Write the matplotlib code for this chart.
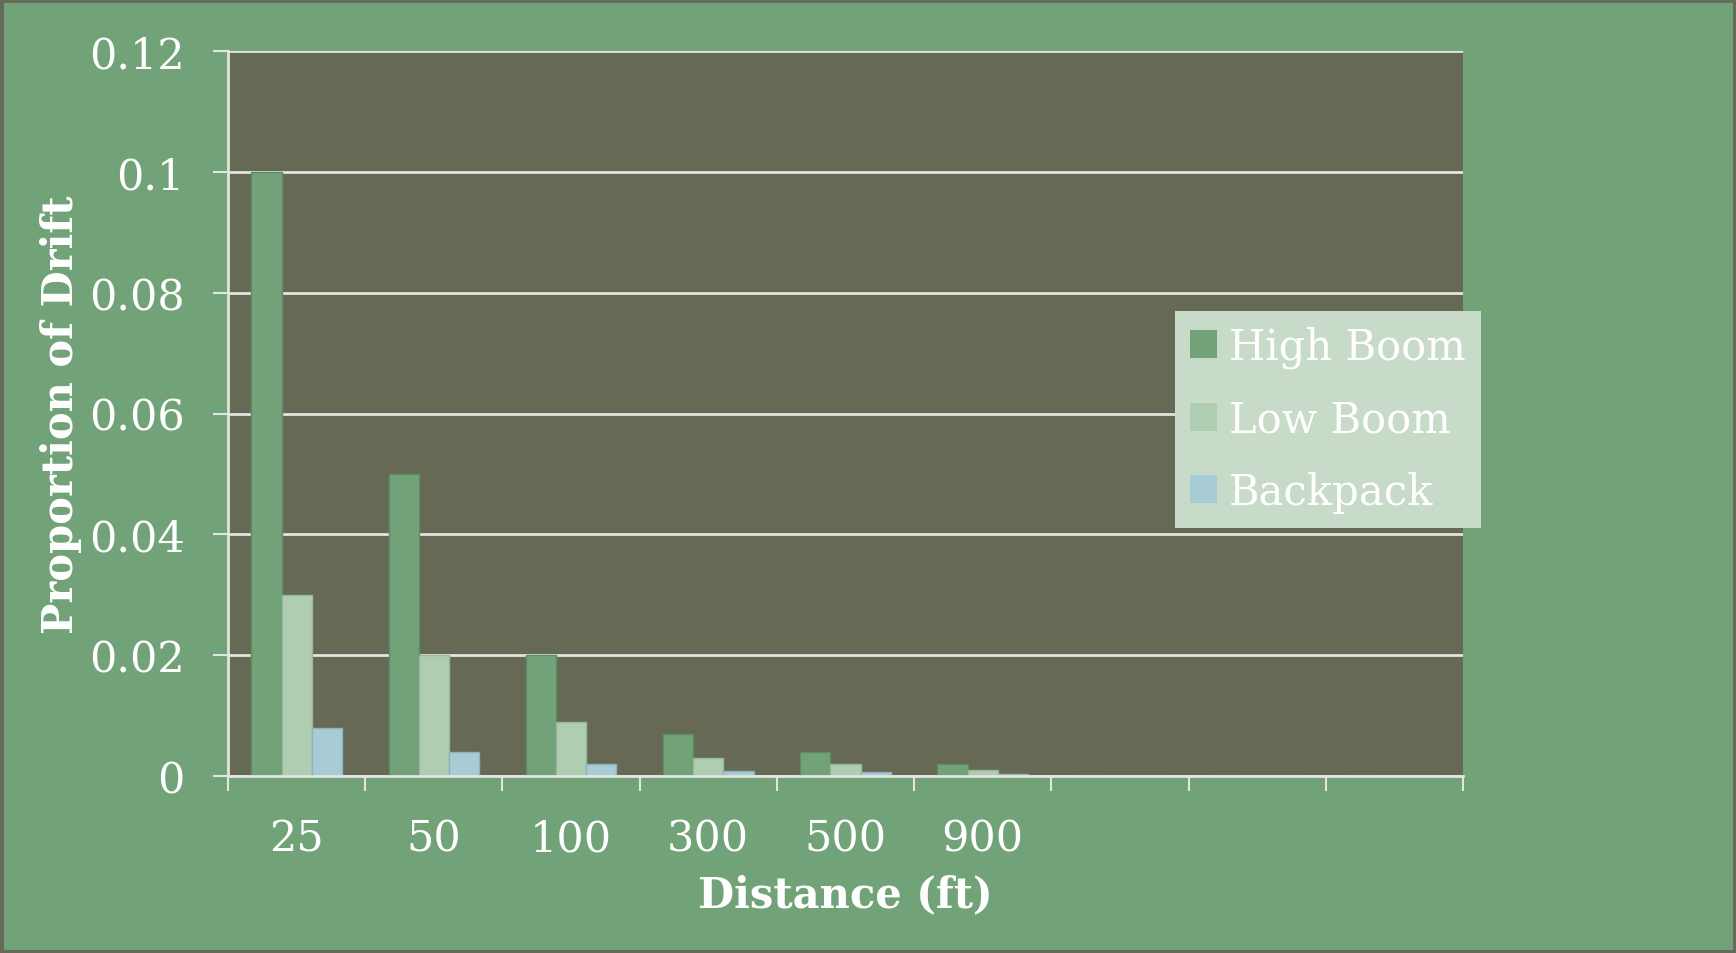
import numpy as np
import matplotlib
matplotlib.use("Agg")
import matplotlib.pyplot as plt

# --- data ---
distances = ["25", "50", "100", "300", "500", "900", "", "", ""]
high_boom = [0.1, 0.05, 0.02, 0.007, 0.004, 0.002, 0, 0, 0]
low_boom = [0.03, 0.02, 0.009, 0.003, 0.002, 0.001, 0, 0, 0]
backpack = [0.008, 0.004, 0.002, 0.0009, 0.0006, 0.0003, 0, 0, 0]
series_names = ["High Boom", "Low Boom", "Backpack"]
y_ticks = [0, 0.02, 0.04, 0.06, 0.08, 0.1, 0.12]
y_tick_labels = ["0", "0.02", "0.04", "0.06", "0.08", "0.1", "0.12"]

# --- styling ---
BG = "#72a378"
PLOT_BG = "#666a55"
BORDER = "#666a5a"
GRID = "#e4e4e0"
colors = ["#72a378", "#afcdb0", "#a8ccd5"]
edges = ["#5f8c64", "#98b899", "#8fb3bd"]

plt.rcParams['font.family'] = ['DejaVu Serif']

fig = plt.figure(figsize=(17.36, 9.54), dpi=100, facecolor=BG,
                 edgecolor=BORDER, linewidth=5)
ax = fig.add_axes([228/1736, 1 - 777/954, (1463-228)/1736, (777-52)/954])
ax.set_facecolor(PLOT_BG)

x = np.arange(len(distances))
w = 0.22
for i, (vals, name) in enumerate(zip([high_boom, low_boom, backpack], series_names)):
    ax.bar(x + (i - 1) * w, vals, width=w, color=colors[i],
           edgecolor=edges[i], linewidth=1, label=name, zorder=3)

ax.set_xlim(-0.5, len(distances) - 0.5)
ax.set_ylim(0, 0.12)
ax.set_yticks(y_ticks)
ax.set_yticklabels(y_tick_labels)
ax.set_xticks(x)
ax.set_xticklabels(distances)
ax.set_xticks(np.arange(len(distances) + 1) - 0.5, minor=True)

ax.grid(axis='y', color=GRID, linewidth=2, zorder=1)
for s in ['top', 'right']:
    ax.spines[s].set_visible(False)
for s in ['left', 'bottom']:
    ax.spines[s].set_color(GRID)
    ax.spines[s].set_linewidth(2)
    ax.spines[s].set_zorder(4)

ax.tick_params(axis='y', direction='out', length=11, width=1.5, color=GRID,
               labelcolor='white', labelsize=31, pad=20)
ax.tick_params(axis='x', which='major', length=0, labelcolor='white',
               labelsize=31, pad=30)
ax.tick_params(axis='x', which='minor', direction='out', length=11, width=1.5,
               color=GRID)

ax.set_ylabel("Proportion of Drift", fontsize=30, fontweight='bold',
              color='white', labelpad=5)
ax.set_xlabel("Distance (ft)", fontsize=30, fontweight='bold',
              color='white', labelpad=10)

leg = fig.legend(loc='upper left', bbox_to_anchor=(1175/1736, 1 - 312/954),
                 fontsize=30, frameon=True, fancybox=False, framealpha=1,
                 facecolor="#c8dbc8", edgecolor="none", handlelength=0.65,
                 handleheight=0.65, handletextpad=0.3, labelspacing=0.73,
                 borderpad=0.35, borderaxespad=0)
for t in leg.get_texts():
    t.set_color('white')
for h in leg.legend_handles:
    h.set_edgecolor('none')

fig.savefig("out.png", dpi=100)
